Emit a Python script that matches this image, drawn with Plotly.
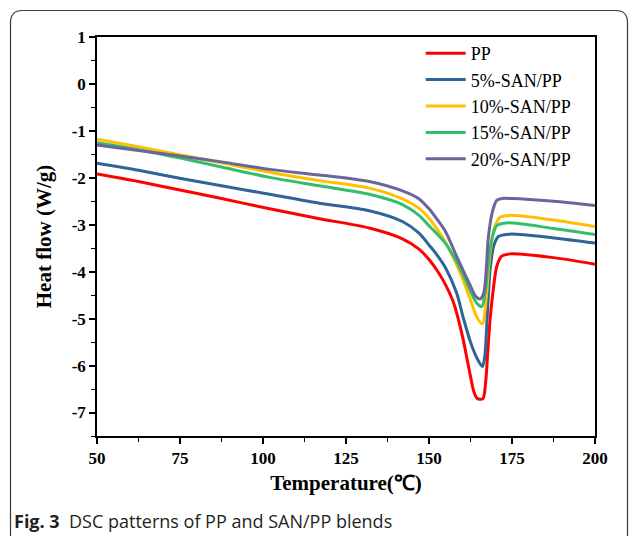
import plotly.graph_objects as go

# ---------------- data ----------------
series_names = ["PP", "5%-SAN/PP", "10%-SAN/PP", "15%-SAN/PP", "20%-SAN/PP"]

pp_x = [50, 62.5, 76.5, 87.5, 102, 117, 132, 142, 147, 150, 152.5, 155, 157.5, 160, 162,
        163.5, 164.5, 166.2, 167, 167.8, 168.4, 169.5, 170.4, 171.9, 174.4, 187.5, 200]
pp_y = [-1.92, -2.08, -2.28, -2.44, -2.66, -2.87, -3.07, -3.30, -3.52, -3.74, -3.98, -4.28, -4.68,
        -5.35, -6.05, -6.55, -6.70, -6.71, -6.40, -5.60, -5.02, -4.30, -3.89, -3.67, -3.62, -3.70, -3.84]

s5_x = [50, 62.5, 76.5, 87.5, 102, 117, 132, 142, 147, 150, 152.5, 155, 158.3, 160.2, 162.5,
        164.5, 166.1, 166.8, 167.5, 168.4, 169.5, 170.9, 174.4, 187.5, 200]
s5_y = [-1.69, -1.84, -2.03, -2.17, -2.35, -2.54, -2.70, -2.93, -3.18, -3.43, -3.65, -3.92, -4.45,
        -4.95, -5.50, -5.85, -6.02, -5.80, -5.00, -3.96, -3.45, -3.25, -3.20, -3.28, -3.39]

s10_x = [50, 62.5, 76.5, 87.5, 102, 117, 132, 142, 147, 150, 152.5, 155, 158.3, 160.2, 162.5,
         164.5, 166.1, 167.2, 168.4, 169.8, 171.4, 174.4, 187.5, 200]
s10_y = [-1.18, -1.34, -1.53, -1.68, -1.88, -2.06, -2.22, -2.45, -2.65, -2.86, -3.10, -3.38, -3.85,
         -4.17, -4.60, -4.98, -5.11, -4.60, -3.60, -3.05, -2.84, -2.80, -2.90, -3.04]

s15_x = [50, 62.5, 76.5, 87.5, 102, 117, 132, 142, 147, 150, 152.5, 155, 158.3, 160.2, 162.5,
         164.5, 165.9, 167, 168.2, 169.3, 170.4, 173.4, 187.5, 200]
s15_y = [-1.25, -1.40, -1.60, -1.77, -1.99, -2.17, -2.35, -2.57, -2.80, -3.02, -3.20, -3.40, -3.78,
         -4.05, -4.42, -4.68, -4.74, -4.40, -3.60, -3.20, -3.02, -2.96, -3.08, -3.21]

s20_x = [50, 62.5, 76.5, 87.5, 102, 117, 132, 142, 147, 150, 152.5, 155, 158.3, 160.2, 162.5,
         164, 165.4, 166.5, 167.9, 169, 170.4, 172, 175, 187.5, 200]
s20_y = [-1.30, -1.42, -1.55, -1.66, -1.82, -1.94, -2.08, -2.28, -2.45, -2.66, -2.89, -3.15, -3.67,
         -3.96, -4.30, -4.52, -4.58, -4.45, -3.25, -2.75, -2.48, -2.44, -2.44, -2.50, -2.59]

colors = ["#ff0000", "#2f6498", "#ffc000", "#33bf6a", "#6b659b"]

x_ticks = [50, 75, 100, 125, 150, 175, 200]
y_ticks = [1, 0, -1, -2, -3, -4, -5, -6, -7]

# ---------------- figure ----------------
fig = go.Figure()
for name, xs, ys, c in zip(series_names,
                           [pp_x, s5_x, s10_x, s15_x, s20_x],
                           [pp_y, s5_y, s10_y, s15_y, s20_y],
                           colors):
    fig.add_trace(go.Scatter(x=xs, y=ys, mode="lines", name=name,
                             line=dict(color=c, width=3, shape="spline", smoothing=0.8)))

serif = "Liberation Serif, Times New Roman, serif"

L, R, T, B = 97, 34, 37, 100
W, H = 629, 536
pw, ph = W - L - R, H - T - B


def px(p):
    return (p - L) / pw


def py(q):
    return (H - B - q) / ph


# outer rounded frame (figure panel border)
x0, x1 = px(10.5), px(627.5)
y0, yb = py(10.5), py(560)
rx, ry = 12 / pw, 12 / ph
frame_path = (f"M {x0},{yb} L {x0},{y0 - ry} Q {x0},{y0} {x0 + rx},{y0} "
              f"L {x1 - rx},{y0} Q {x1},{y0} {x1},{y0 - ry} L {x1},{yb}")

fig.update_layout(
    width=W, height=H,
    margin=dict(l=L, r=R, t=T, b=B),
    paper_bgcolor="white", plot_bgcolor="white",
    showlegend=True,
    legend=dict(x=0.65, y=1.005, xanchor="left", yanchor="top",
                bgcolor="rgba(0,0,0,0)", borderwidth=0,
                font=dict(family=serif, size=18, color="black"),
                tracegroupgap=0, itemwidth=40),
    shapes=[dict(type="path", xref="paper", yref="paper", path=frame_path,
                 line=dict(color="#3a3a3a", width=1.2), layer="above")],
    annotations=[dict(xref="paper", yref="paper", x=px(12), y=py(521),
                      xanchor="left", yanchor="middle", showarrow=False,
                      text="<b>Fig. 3</b>  DSC patterns of PP and SAN/PP blends",
                      font=dict(family="Open Sans, Noto Sans, sans-serif", size=18,
                                color="#231f20"))],
)

fig.update_xaxes(
    range=[50, 200], tickvals=x_ticks, ticktext=[str(v) for v in x_ticks],
    showgrid=False, zeroline=False,
    showline=True, linecolor="black", linewidth=1.5, mirror=True,
    ticks="outside", ticklen=6, tickwidth=1.5, tickcolor="black",
    minor=dict(ticks="outside", dtick=12.5, tick0=50, ticklen=4, tickwidth=1.2,
               tickcolor="black", showgrid=False),
    tickfont=dict(family=serif, size=17, color="black", weight="bold"),
    title=dict(text="<b>Temperature(℃)</b>", standoff=8,
               font=dict(family=serif, size=21, color="black")),
)
fig.update_yaxes(
    range=[-7.5, 1], tickvals=y_ticks, ticktext=[str(v) for v in y_ticks],
    showgrid=False, zeroline=False,
    showline=True, linecolor="black", linewidth=1.5, mirror=True,
    ticks="outside", ticklen=6, tickwidth=1.5, tickcolor="black",
    minor=dict(ticks="outside", dtick=0.5, tick0=0, ticklen=4, tickwidth=1.2,
               tickcolor="black", showgrid=False),
    tickfont=dict(family=serif, size=17, color="black", weight="bold"),
    title=dict(text="<b>Heat flow (W/g)</b>", standoff=14,
               font=dict(family=serif, size=21, color="black")),
)

fig.write_html("out.html",
               config={"displayModeBar": False},
               post_script="document.body.style.margin='0';document.body.style.overflow='hidden';")
